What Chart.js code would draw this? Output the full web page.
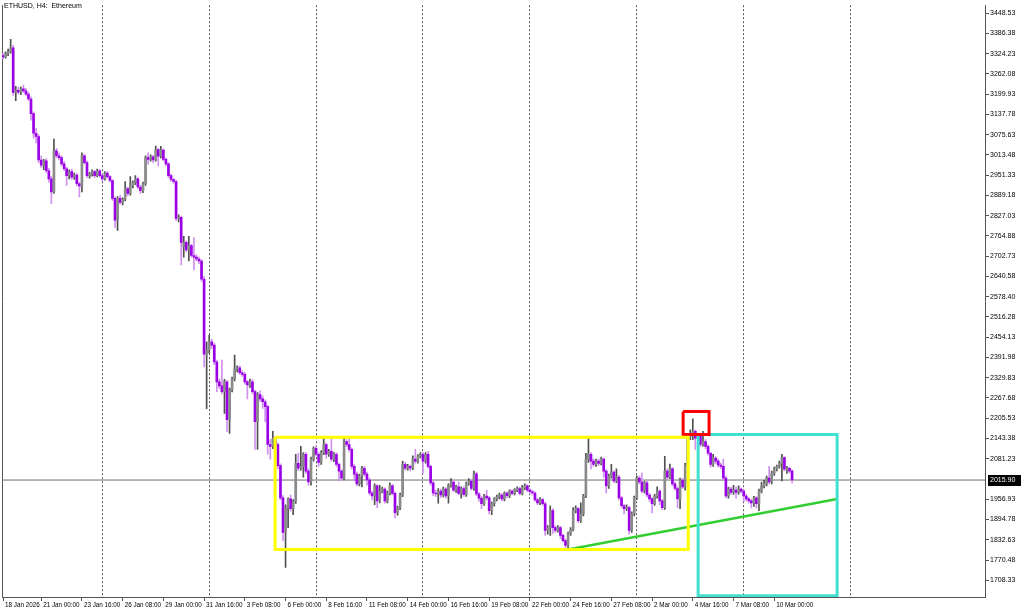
<!DOCTYPE html>
<html>
<head>
<meta charset="utf-8">
<script src="https://cdn.jsdelivr.net/npm/chart.js@4.4.1/dist/chart.umd.min.js"></script>
<style>
  html, body { margin: 0; padding: 0; background: #fff; }
</style>
</head>
<body>
<canvas id="ethChart" width="1024" height="612"></canvas>
<script>
// ETHUSD H4 candles, index 0 = 18 Jan 2026 12:00
const opens = [
  3318,3314,3325,3330,3342,3205,3212,3206,3216,3210,3200,3185,3140,3080,3070,2998,2982,2995,2965,2940,
  2900,3026,3011,3005,2986,2971,2950,2962,2945,2952,2925,2918,3011,2990,2950,2956,2962,2950,2965,2950,
  2940,2958,2947,2935,2880,2813,2880,2868,2877,2910,2895,2920,2928,2940,2915,2904,2925,3005,3000,3008,
  2998,3030,3010,3028,3000,2986,2950,2938,2932,2819,2822,2733,2745,2722,2735,2705,2700,2694,2688,2632,
  2402,2414,2440,2430,2378,2317,2305,2287,2317,2201,2293,2326,2357,2360,2345,2340,2317,2308,2317,2287,
  2195,2278,2265,2256,2241,2125,2119,2144,2125,2060,1961,1855,1931,1958,1928,1950,2067,2052,2058,2095,
  2043,2010,2080,2113,2095,2070,2100,2125,2095,2104,2080,2095,2064,2043,2022,2134,2125,2110,2058,2034,
  2004,2028,2052,2034,2016,1976,1967,1998,1952,1982,1988,1952,1976,1998,1975,1916,1931,1970,2064,2052,
  2058,2052,2080,2074,2089,2095,2074,2095,2058,2007,1976,1973,1982,1970,1988,1967,2000,2010,1985,1995,
  1975,1990,1972,2005,2013,1990,2035,1973,1960,1943,1967,1961,1922,1943,1958,1965,1970,1958,1976,1968,
  1982,1975,1985,1990,1975,1992,1998,1985,1980,1976,1955,1946,1956,1943,1861,1870,1922,1870,1861,1870,
  1846,1830,1815,1852,1864,1922,1928,1891,1912,1967,2080,2095,2074,2064,2074,2067,2080,2043,1998,2028,
  2040,2013,2025,1961,1937,1928,1931,1861,1912,1961,2022,2010,1982,2007,1970,1958,1943,1967,1982,1952,
  1931,2043,2025,2050,2004,1990,1958,2016,1995,2062,2150,2159,2165,2144,2150,2125,2134,2119,2098,2064,
  2083,2074,2062,2058,2022,1967,1988,1978,1985,1978,1988,1982,1967,1958,1952,1946,1961,1943,1982,1998,
  2004,2022,2010,2037,2050,2058,2067,2085,2049,2052,2043
];
const highs = [
  3326,3330,3338,3368,3350,3224,3222,3222,3228,3218,3206,3192,3146,3095,3076,3010,3000,3002,2972,2948,
  3062,3034,3020,3010,2994,2976,2968,2970,2958,2956,2930,3020,3016,2995,2960,2968,2966,2970,2969,2955,
  2962,2962,2950,2938,2885,2886,2890,2882,2932,2915,2947,2934,2950,2944,2920,2930,3011,3020,3014,3012,
  3041,3034,3040,3032,3004,2990,2955,2942,2936,2830,2826,2764,2750,2764,2740,2760,2708,2700,2692,2640,
  2440,2460,2448,2436,2384,2326,2384,2325,2322,2298,2332,2399,2366,2366,2352,2346,2322,2326,2324,2292,
  2284,2290,2274,2262,2246,2140,2165,2150,2130,2066,1968,1940,1961,1970,1956,2095,2098,2119,2100,2100,
  2050,2086,2118,2120,2100,2106,2150,2130,2110,2150,2100,2100,2068,2048,2150,2140,2144,2115,2064,2040,
  2034,2058,2058,2040,2022,1982,2004,2002,2000,1994,1992,1982,2007,2003,1980,1936,1976,2074,2070,2064,
  2062,2090,2110,2094,2100,2100,2100,2104,2062,2012,1985,1990,1988,1994,1992,2004,2020,2014,2000,2010,
  1995,1996,2010,2020,2018,2043,2040,1978,1965,1972,1985,1966,1948,1962,1970,1976,1974,1980,1980,1986,
  1986,1990,1995,1994,2000,2004,2002,1990,1985,1980,1960,1962,1960,1948,1876,1937,1928,1875,1876,1874,
  1850,1834,1856,1870,1931,1937,1932,1946,1972,2098,2150,2100,2080,2080,2080,2086,2084,2048,2034,2064,
  2044,2050,2030,1966,1942,1940,1936,1918,1967,2028,2028,2037,2012,2012,1975,1962,1972,1995,1986,1956,
  2089,2050,2065,2055,2010,1995,2022,2020,2067,2156,2170,2204,2170,2158,2155,2165,2140,2124,2102,2095,
  2088,2080,2068,2080,2028,1994,1994,2000,1995,1998,1992,1986,1972,1962,1957,1966,1965,1988,2010,2015,
  2028,2058,2043,2056,2062,2074,2095,2088,2058,2056,2048
];
const lows = [
  3308,3310,3318,3326,3196,3180,3200,3198,3205,3196,3180,3120,3065,3050,2990,2975,2968,2958,2930,2864,
  2895,3005,2998,2980,2965,2920,2940,2938,2938,2918,2885,2900,2985,2944,2942,2948,2944,2946,2945,2934,
  2936,2942,2930,2874,2790,2782,2862,2860,2872,2888,2890,2912,2922,2910,2895,2898,2920,2985,2994,2990,
  2994,2980,3004,2995,2980,2944,2932,2926,2812,2808,2676,2700,2716,2688,2700,2661,2688,2680,2625,2363,
  2235,2405,2420,2370,2287,2296,2280,2220,2165,2159,2286,2320,2348,2340,2334,2310,2265,2300,2280,2110,
  2110,2258,2236,2195,2095,2080,2112,2118,2050,1955,1830,1748,1870,1920,1910,1944,2045,2046,2025,2036,
  2000,2000,2074,2090,2058,2064,2094,2083,2088,2074,2072,2058,2013,2016,2016,2118,2104,2050,2013,1998,
  1998,1995,2028,2000,1970,1955,1940,1931,1946,1976,1945,1946,1970,1970,1900,1908,1925,1965,2046,2046,
  2044,2048,2068,2068,2084,2037,2068,2052,2000,1967,1966,1945,1962,1964,1960,1945,1994,1980,1978,1970,
  1960,1966,1966,2000,1985,1984,1968,1950,1928,1938,1955,1912,1910,1936,1952,1958,1952,1952,1962,1962,
  1970,1970,1980,1970,1970,1986,1980,1974,1970,1950,1940,1940,1938,1846,1850,1846,1852,1855,1856,1836,
  1825,1806,1800,1846,1860,1915,1885,1886,1906,1962,2070,2050,2058,2058,2060,2062,2025,1976,1990,2022,
  2008,2008,1955,1932,1912,1922,1850,1855,1906,1956,2004,1976,1976,1964,1950,1915,1938,1960,1940,1925,
  1926,2018,2020,1998,1985,1931,1928,1990,1985,2056,2140,2140,2110,2105,2118,2120,2112,2092,2055,2058,
  2066,2055,2050,2016,1961,1960,1972,1972,1960,1972,1976,1950,1952,1945,1930,1935,1930,1922,1976,1992,
  1998,2004,2004,2030,2044,2052,2013,2044,2036,2038,2007
];
const closes = [
  3314,3325,3330,3342,3205,3212,3206,3216,3210,3200,3185,3140,3080,3070,2998,2982,2995,2965,2940,2900,
  3026,3011,3005,2986,2971,2950,2962,2945,2952,2925,2918,3011,2990,2950,2956,2962,2950,2965,2950,2940,
  2958,2947,2935,2880,2813,2880,2868,2877,2910,2895,2920,2928,2940,2915,2904,2925,3005,3000,3008,2998,
  3030,3010,3028,3000,2986,2950,2938,2932,2819,2822,2745,2745,2722,2735,2705,2700,2694,2688,2632,2402,
  2414,2440,2430,2378,2317,2305,2287,2317,2201,2293,2326,2357,2360,2345,2340,2317,2308,2317,2287,2195,
  2278,2265,2256,2241,2125,2119,2144,2125,2060,1961,1855,1931,1958,1928,1950,2067,2052,2058,2095,2043,
  2010,2080,2113,2095,2070,2100,2125,2095,2104,2080,2095,2064,2043,2022,2134,2125,2110,2058,2034,2004,
  2028,2052,2034,2016,1976,1967,1998,1952,1982,1988,1952,1976,1998,1975,1916,1931,1970,2064,2052,2058,
  2052,2080,2074,2089,2095,2074,2095,2058,2007,1976,1973,1982,1970,1988,1967,2000,2010,1985,1995,1975,
  1990,1972,2005,2013,1990,2035,1973,1960,1943,1967,1961,1922,1943,1958,1965,1970,1958,1976,1968,1982,
  1975,1985,1990,1975,1992,1998,1985,1980,1976,1955,1946,1956,1943,1861,1870,1922,1870,1861,1870,1846,
  1830,1815,1852,1864,1922,1928,1891,1912,1967,2080,2095,2074,2064,2074,2067,2080,2043,1998,2028,2040,
  2013,2025,1961,1937,1928,1931,1861,1912,1961,2022,2010,1982,2007,1970,1958,1943,1967,1982,1952,1931,
  2043,2025,2050,2004,1990,1958,2016,1995,2062,2150,2159,2165,2144,2150,2125,2134,2119,2098,2064,2083,
  2074,2062,2058,2022,1967,1988,1978,1985,1978,1988,1982,1967,1958,1952,1946,1961,1943,1982,1998,2004,
  2022,2010,2037,2050,2058,2067,2085,2049,2052,2043,2015.90
];

// axis labels
const dateTickIdx = [0, 15, 31, 47, 63, 79, 95, 111, 127, 143, 159, 175, 191, 207, 223, 239, 255, 271, 287, 303];
const dateTickLabels = ["18 Jan 2026", "21 Jan 00:00", "23 Jan 16:00", "26 Jan 08:00", "29 Jan 00:00",
  "31 Jan 16:00", "3 Feb 08:00", "6 Feb 00:00", "8 Feb 16:00", "11 Feb 08:00", "14 Feb 00:00",
  "16 Feb 16:00", "19 Feb 08:00", "22 Feb 00:00", "24 Feb 16:00", "27 Feb 08:00", "2 Mar 00:00",
  "4 Mar 16:00", "7 Mar 08:00", "10 Mar 00:00"];
const weekGridIdx = [39, 81, 123, 165, 207, 249, 291, 333];
const priceTicks = [3448.53, 3386.38, 3324.23, 3262.08, 3199.93, 3137.78, 3075.63, 3013.48, 2951.33,
  2889.18, 2827.03, 2764.88, 2702.73, 2640.58, 2578.40, 2516.28, 2454.13, 2391.98, 2329.83, 2267.68,
  2205.53, 2143.38, 2081.23, 1956.93, 1894.78, 1832.63, 1770.48, 1708.33];
const lastPrice = 2015.90;

// drawn objects (candle index, price)
const yellowBox = [[106.9, 2147], [269.2, 2147], [269.2, 1803], [106.9, 1803], [106.9, 2147]];
const redBox = [[267.2, 2226], [277.4, 2226], [277.4, 2156], [267.2, 2156], [267.2, 2226]];
const cyanBox = [[273.1, 2156], [327.7, 2156], [327.7, 1661], [273.1, 1661], [273.1, 2156]];
const greenLine = [[222, 1803], [327.7, 1958]];

const X_MIN = -0.4, X_MAX = 385.8;
const Y_MIN = 1657, Y_MAX = 3472.9;
const FONT = "Liberation Sans";

const isUp = i => closes[i] >= opens[i];
const toXY = arr => arr.map(p => ({ x: p[0], y: p[1] }));

function shape(pts, color, width) {
  return {
    type: "line", data: toXY(pts), borderColor: color, borderWidth: width,
    pointRadius: 0, fill: false, tension: 0, order: 0
  };
}

const overlayText = {
  id: "overlayText",
  afterDraw(chart) {
    const ctx = chart.ctx;
    const y = chart.scales.y.getPixelForValue(lastPrice);
    const left = chart.chartArea.right + 1;
    ctx.save();
    ctx.fillStyle = "#000";
    ctx.fillRect(left + 2, Math.round(y) - 5, 33, 11);
    ctx.fillStyle = "#fff";
    ctx.font = "7px " + FONT;
    ctx.textBaseline = "middle";
    ctx.fillText(lastPrice.toFixed(2), left + 4, Math.round(y) + 0.5);
    ctx.fillStyle = "#000";
    ctx.fillText("ETHUSD, H4:  Ethereum", 4, 6);
    ctx.restore();
  }
};

new Chart(document.getElementById("ethChart"), {
  type: "bar",
  data: {
    datasets: [
      shape(yellowBox, "#ffff00", 3),
      shape(redBox, "#ff0000", 3),
      shape(cyanBox, "#40e0d0", 3),
      shape(greenLine, "#32cd32", 2.5),
      {
        type: "bar",
        data: closes.map((c, i) => ({ x: i, y: [opens[i], c] })),
        backgroundColor: ctx => isUp(ctx.dataIndex) ? "#8a8a8a" : "#9b00e6",
        barThickness: 2, grouped: false, minBarLength: 1, order: 1
      },
      {
        type: "bar",
        data: closes.map((c, i) => ({ x: i, y: [lows[i], highs[i]] })),
        backgroundColor: ctx => isUp(ctx.dataIndex) ? "#505050" : "#cf90f0",
        barThickness: 1, grouped: false, order: 2
      },
      {
        type: "line",
        data: [{ x: X_MIN, y: lastPrice }, { x: X_MAX, y: lastPrice }],
        borderColor: "#6e6e6e", borderWidth: 1, pointRadius: 0, order: 3
      }
    ]
  },
  options: {
    responsive: false,
    animation: false,
    layout: { padding: { left: 2, top: 0, right: 0, bottom: 0 } },
    plugins: { legend: { display: false }, tooltip: { enabled: false } },
    scales: {
      x: {
        type: "linear", position: "bottom", min: X_MIN, max: X_MAX, offset: false,
        afterBuildTicks: s => { s.ticks = dateTickIdx.map(v => ({ value: v })); },
        afterFit: s => { s.height = 15; },
        ticks: {
          autoSkip: false, maxRotation: 0, align: "start", labelOffset: 2, padding: 0,
          color: "#000", font: { family: FONT, size: 6.3 },
          callback: (v, i) => dateTickLabels[i]
        },
        grid: { drawOnChartArea: false, tickLength: 4, color: "#555", offset: false },
        border: { color: "#555" }
      },
      xg: {
        type: "linear", position: "bottom", min: X_MIN, max: X_MAX, offset: false,
        afterBuildTicks: s => { s.ticks = weekGridIdx.map(v => ({ value: v })); },
        afterFit: s => { s.height = 0; },
        ticks: { display: false },
        grid: { drawTicks: false, color: "#555", offset: false },
        border: { display: false, dash: [2, 2] }
      },
      y: {
        type: "linear", position: "right", min: Y_MIN, max: Y_MAX,
        afterBuildTicks: s => { s.ticks = priceTicks.map(v => ({ value: v })); },
        afterFit: s => { s.width = 39; },
        ticks: {
          color: "#000", padding: 1, font: { family: FONT, size: 7 },
          callback: v => v.toFixed(2)
        },
        grid: { drawOnChartArea: false, tickLength: 4, color: "#555" },
        border: { color: "#555" }
      },
      yl: {
        type: "linear", position: "left", min: Y_MIN, max: Y_MAX,
        afterFit: s => { s.width = 0; },
        ticks: { display: false },
        grid: { drawOnChartArea: false, drawTicks: false },
        border: { color: "#555" }
      }
    }
  },
  plugins: [overlayText]
});
</script>
</body>
</html>
